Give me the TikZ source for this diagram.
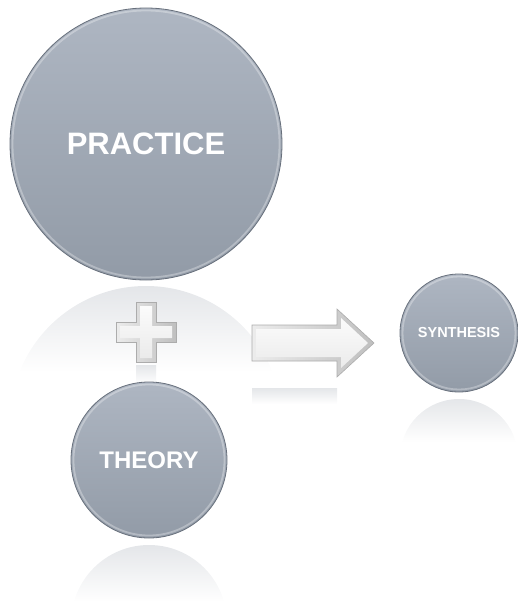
\documentclass[tikz,border=0pt]{standalone}
\usepackage{fontspec}
\setmainfont{Liberation Sans}
\definecolor{bubtop}{RGB}{174,182,194}
\definecolor{bubbot}{RGB}{146,155,167}
\definecolor{bubrim}{RGB}{104,112,124}
\definecolor{refl}{RGB}{228,230,233}
\tikzset{
  bubble/.style={circle, draw=bubrim, line width=0.8pt, top color=bubtop,
    bottom color=bubbot, text=white, font=\bfseries, inner sep=0pt},
  rimlight/.style={white, opacity=0.3, line width=1.8pt},
  mirror/.style={top color=refl, bottom color=white},
  bevelout/.style={draw=gray!65, line width=0.6pt, left color=gray!15, right color=gray!50},
  bevelin/.style={top color=gray!3, bottom color=gray!16},
}

\begin{document}
\begin{tikzpicture}[x=1pt, y=-1pt]
			%%%%% START %%%%%
			\useasboundingbox (0,0) rectangle (518,602);
			
			% mirrored glow under each disc
			\begin{scope}
				\clip (146,422) circle (136pt);
				\shade[mirror] (0,286) rectangle (300,372);
			\end{scope}
			\begin{scope}
				\clip (149,623) circle (78pt);
				\shade[mirror] (60,545) rectangle (240,602);
			\end{scope}
			\begin{scope}
				\clip (459,458) circle (59pt);
				\shade[mirror] (390,398) rectangle (518,442);
			\end{scope}
			\shade[mirror] (136,365) rectangle (156,384);
			\shade[mirror] (252,388) rectangle (337,404);
			
			% the three discs
			\node[bubble, minimum size=272pt, font=\bfseries\fontsize{31}{31}\selectfont] (practice) at (146,144) {PRACTICE};
			\node[bubble, minimum size=156pt, font=\bfseries\fontsize{24}{24}\selectfont] (theory) at (149,460) {THEORY};
			\node[bubble, minimum size=118pt, font=\bfseries\fontsize{14.5}{14.5}\selectfont] (synthesis) at (459,333) {SYNTHESIS};
			
			\draw[rimlight] (practice.center) circle (133.5pt);
			\draw[rimlight] (theory.center) circle (75.5pt);
			\draw[rimlight] (synthesis.center) circle (56.5pt);
			
			% plus sign
			\draw[bevelout] (136,302) -- (156,302) -- (156,322) -- (176,322) -- (176,342) -- (156,342)
				-- (156,362) -- (136,362) -- (136,342) -- (116,342) -- (116,322) -- (136,322) -- cycle;
			\shade[bevelin] (140,306) -- (152,306) -- (152,326) -- (172,326) -- (172,338) -- (152,338)
				-- (152,358) -- (140,358) -- (140,338) -- (120,338) -- (120,326) -- (140,326) -- cycle;
			
			% block arrow
			\draw[bevelout] (252,325) -- (337,325) -- (337,309) -- (374,343) -- (337,377) -- (337,361) -- (252,361) -- cycle;
			\shade[bevelin] (256,329) -- (341,329) -- (341,318) -- (368,343) -- (341,368) -- (341,357) -- (256,357) -- cycle;
			
			%%%%% END %%%%%
\end{tikzpicture}
\end{document}
